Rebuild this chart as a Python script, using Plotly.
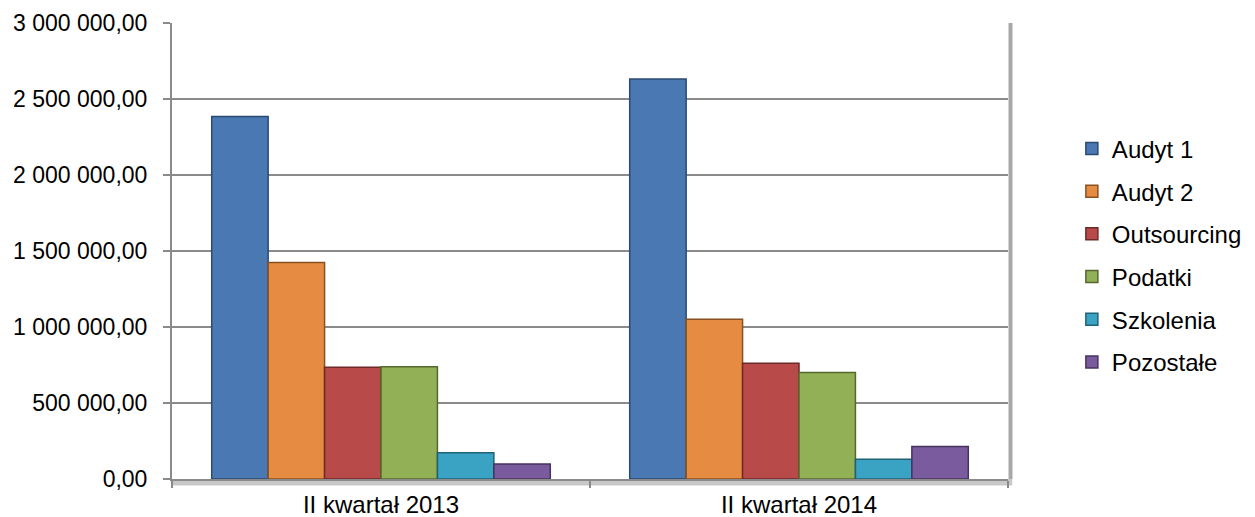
import plotly.graph_objects as go

categories = ["II kwartał 2013", "II kwartał 2014"]
series_names = ["Audyt 1", "Audyt 2", "Outsourcing", "Podatki", "Szkolenia", "Pozostałe"]
audyt1 = [2385000, 2631000]
audyt2 = [1424000, 1051000]
outsourcing = [735000, 762000]
podatki = [739000, 700000]
szkolenia = [173000, 130000]
pozostale = [99000, 213000]
tick_vals = [0, 500000, 1000000, 1500000, 2000000, 2500000, 3000000]
tick_text = ["0,00", "500 000,00", "1 000 000,00", "1 500 000,00",
             "2 000 000,00", "2 500 000,00", "3 000 000,00"]

series_values = [audyt1, audyt2, outsourcing, podatki, szkolenia, pozostale]
colors = ["#4a78b2", "#e68c42", "#b84b4a", "#92b055", "#3aa2c2", "#7a5b9e"]
edges = ["#2b4a72", "#8a5020", "#6e2a28", "#56682e", "#1f6278", "#47345e"]

fig = go.Figure()
for name, vals, c, e in zip(series_names, series_values, colors, edges):
    fig.add_trace(go.Bar(
        x=categories, y=vals, name=name, legendgroup=name,
        marker=dict(color=c, line=dict(color=e, width=1.5)),
    ))

fig.update_layout(
    width=1255, height=517,
    margin=dict(l=172, r=247, t=23, b=38, autoexpand=False),
    paper_bgcolor="white", plot_bgcolor="white",
    barmode="group", bargap=0.19, bargroupgap=0,
    font=dict(family="Liberation Sans, Arial, sans-serif", size=24, color="#000000"),
    legend=dict(x=1.0764, xanchor="left", y=0.4905, yanchor="middle",
                font=dict(size=24), tracegroupgap=8.5, bgcolor="rgba(0,0,0,0)"),
    showlegend=True,
)
fig.update_yaxes(
    range=[0, 3000000], tickvals=tick_vals, ticktext=tick_text,
    tickfont=dict(size=23),
    showgrid=True, gridcolor="#8a8a8a", gridwidth=1.5,
    showline=True, linecolor="#8a8a8a", linewidth=2,
    ticks="outside", ticklen=7, tickcolor="#8a8a8a", tickwidth=1.5,
    ticklabelstandoff=11, zeroline=False, automargin=False,
)
fig.update_xaxes(
    showline=True, linecolor="#8a8a8a", linewidth=2,
    ticks="outside", tickson="boundaries", ticklen=7, tickcolor="#8a8a8a",
    tickwidth=1.5, ticklabelstandoff=3, automargin=False,
)
# plot-area shadow (right edge and floor)
fig.add_shape(type="line", xref="paper", yref="paper", x0=1.003, x1=1.003, y0=0, y1=1,
              line=dict(color="#a8a8a8", width=4), layer="below")
fig.add_shape(type="rect", xref="paper", yref="paper", x0=0, x1=1.005, y0=-0.014, y1=0.0,
              fillcolor="#c8c8c8", line=dict(width=0), layer="below")

fig.write_html("out.html", config={"displayModeBar": False},
               post_script="document.body.style.margin='0';document.body.style.overflow='hidden';")
